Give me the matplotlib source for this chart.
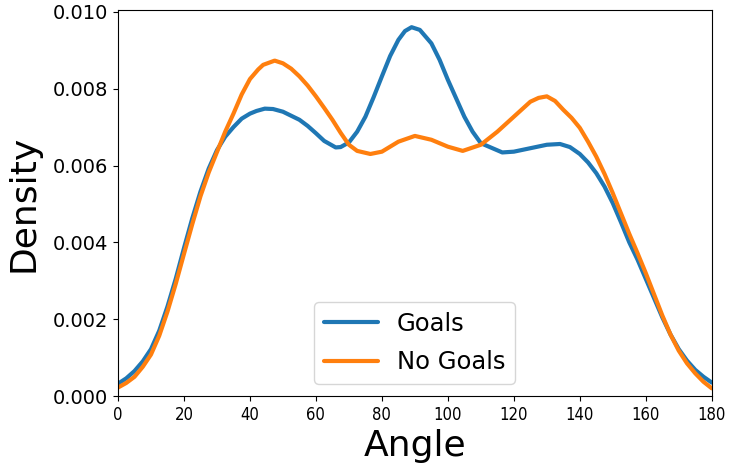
import matplotlib
matplotlib.use("Agg")
import matplotlib.pyplot as plt
from matplotlib import font_manager

# Angle (degrees) and density values
goals_angle = [0, 2.5, 5, 7.5, 10, 12.5, 15, 17.5, 20, 22.5, 25, 27.5, 30, 32.5, 35, 37.5,
               40, 42, 44.5, 47, 50, 55, 57.5, 60, 62.5, 66, 67.5, 70, 72.5, 75, 77.5, 80,
               82.5, 85, 87, 89, 91.5, 95, 97.5, 100, 102.5, 105, 107.5, 110, 116.5, 120,
               125, 130, 134, 137, 140, 142.5, 145, 147.5, 150, 152.5, 155, 157.5, 160,
               162.5, 165, 167.5, 170, 172.5, 175, 177.5, 180]
goals_density = [0.00032, 0.00046, 0.00065, 0.00090, 0.00122, 0.00170, 0.00233, 0.00305,
                 0.00385, 0.00462, 0.00532, 0.00592, 0.00640, 0.00675, 0.00700, 0.00722,
                 0.00735, 0.00742, 0.00748, 0.00747, 0.00740, 0.00719, 0.00703, 0.00684,
                 0.00664, 0.00647, 0.00648, 0.00660, 0.00688, 0.00727, 0.00778, 0.00832,
                 0.00885, 0.00927, 0.00950, 0.00960, 0.00953, 0.00918, 0.00875, 0.00823,
                 0.00775, 0.00727, 0.00688, 0.00658, 0.00634, 0.00636, 0.00645, 0.00654,
                 0.00656, 0.00648, 0.00630, 0.00608, 0.00580, 0.00545, 0.00502, 0.00452,
                 0.00400, 0.00355, 0.00305, 0.00255, 0.00205, 0.00160, 0.00122, 0.00092,
                 0.00068, 0.00050, 0.00035]

nogoals_angle = [0, 2.5, 5, 7.5, 10, 12.5, 15, 17.5, 20, 22.5, 25, 27.5, 30, 32.5, 35, 37.5,
                 40, 42.5, 44, 47.5, 50, 52.5, 55, 57.5, 60, 62.5, 65, 67.5, 70, 72.5, 76.5,
                 80, 85, 90, 95, 100, 104.5, 110, 115, 120, 125, 127.5, 130, 132.5, 135,
                 137.5, 140, 142.5, 145, 147.5, 150, 152.5, 155, 157.5, 160, 162.5, 165,
                 167.5, 170, 172.5, 175, 177.5, 180]
nogoals_density = [0.00022, 0.00034, 0.00050, 0.00076, 0.00108, 0.00157, 0.00220, 0.00292,
                   0.00370, 0.00447, 0.00520, 0.00582, 0.00635, 0.00688, 0.00735, 0.00785,
                   0.00825, 0.00850, 0.00862, 0.00873, 0.00866, 0.00852, 0.00832, 0.00808,
                   0.00780, 0.00750, 0.00719, 0.00685, 0.00654, 0.00638, 0.00630, 0.00636,
                   0.00662, 0.00677, 0.00667, 0.00649, 0.00638, 0.00654, 0.00688, 0.00727,
                   0.00766, 0.00776, 0.00780, 0.00768, 0.00745, 0.00724, 0.00698, 0.00662,
                   0.00623, 0.00578, 0.00528, 0.00475, 0.00422, 0.00372, 0.00320, 0.00265,
                   0.00210, 0.00160, 0.00118, 0.00085, 0.00059, 0.00037, 0.00020]

labels = ["Goals", "No Goals"]
x_ticks = [0, 20, 40, 60, 80, 100, 120, 140, 160, 180]
y_ticks = [0.000, 0.002, 0.004, 0.006, 0.008, 0.010]

# narrow font for x tick labels (they look condensed in the reference)
names = {f.name for f in font_manager.fontManager.ttflist}
if "Liberation Sans Narrow" in names:
    xfont = font_manager.FontProperties(family="Liberation Sans Narrow", size=15)
else:
    xfont = font_manager.FontProperties(family="DejaVu Sans", stretch="condensed", size=12)

fig = plt.figure(figsize=(7.33, 4.72), dpi=100)
ax = fig.add_axes([0.161, 0.161, 0.810, 0.818])
ax.plot(goals_angle, goals_density, color="#1f77b4", lw=3.0, label=labels[0],
        solid_joinstyle="round", solid_capstyle="round")
ax.plot(nogoals_angle, nogoals_density, color="#ff7f0e", lw=3.0, label=labels[1],
        solid_joinstyle="round", solid_capstyle="round")
ax.set_xlim(0, 180)
ax.set_ylim(0, 0.01005)
ax.set_xticks(x_ticks)
ax.set_yticks(y_ticks)
ax.set_yticklabels([f"{v:.3f}" for v in y_ticks], fontsize=14)
ax.set_xticklabels([str(v) for v in x_ticks])
for t in ax.get_xticklabels():
    t.set_fontproperties(xfont)
ax.set_xlabel("Angle", fontsize=26, labelpad=4)
ax.set_ylabel("Density", fontsize=26, labelpad=9)
ax.legend(loc="lower center", fontsize=17.5, labelspacing=0.6, handlelength=2.2)
fig.savefig("out.png", dpi=100)
